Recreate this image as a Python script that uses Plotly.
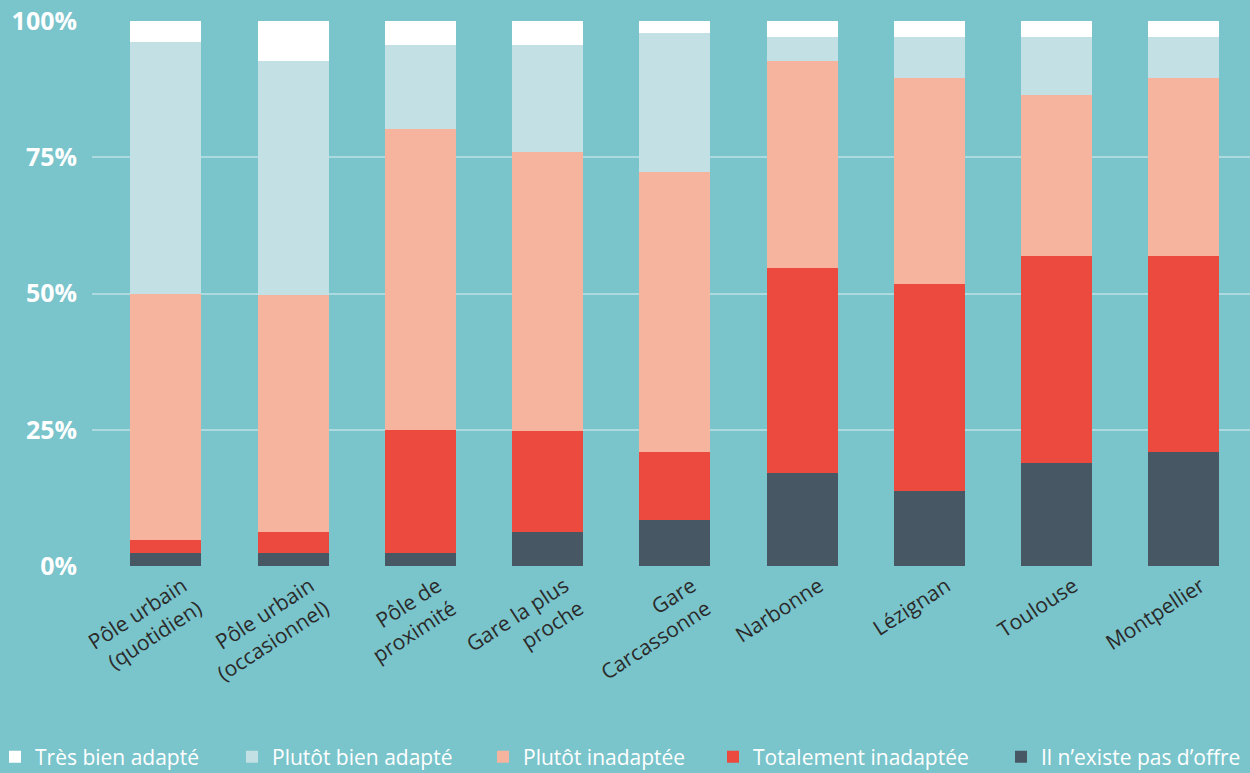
import plotly.graph_objects as go

categories = ["Pôle urbain<br>(quotidien)", "Pôle urbain<br>(occasionnel)", "Pôle de<br>proximité",
              "Gare la plus<br>proche", "Gare<br>Carcassonne", "Narbonne", "Lézignan", "Toulouse", "Montpellier"]

pas_offre = [2.4, 2.4, 2.4, 6.2, 8.4, 17.1, 13.8, 18.9, 20.9]
totalement_inadaptee = [2.4, 3.8, 22.6, 18.6, 12.5, 37.6, 37.9, 38.0, 36.0]
plutot_inadaptee = [45.2, 43.5, 55.2, 51.2, 51.4, 38.0, 37.8, 29.5, 32.6]
plutot_bien = [46.1, 43.0, 15.4, 19.6, 25.5, 4.4, 7.6, 10.7, 7.6]
tres_bien = [3.9, 7.3, 4.4, 4.4, 2.2, 2.9, 2.9, 2.9, 2.9]

y_tickvals = [0, 25, 50, 75, 100]
y_ticktext = ["0%", "25%", "50%", "75%", "100%"]

series_names = ["Il n’existe pas d’offre", "Totalement inadaptée", "Plutôt inadaptée",
                "Plutôt bien adapté", "Très bien adapté"]
series_values = [pas_offre, totalement_inadaptee, plutot_inadaptee, plutot_bien, tres_bien]
colors = ["#475864", "#EC4A3F", "#F6B49F", "#C3E0E4", "#FFFFFF"]
legend_ids = ["legend5", "legend4", "legend3", "legend2", "legend"]
legend_text_px = [1038, 750, 520, 269, 32]

BG = "#7AC4CB"
FONT = "Open Sans"
PLOT_L, PLOT_W = 92, 1158

fig = go.Figure()
for name, vals, col, lg in zip(series_names, series_values, colors, legend_ids):
    fig.add_trace(go.Bar(x=categories, y=vals, name=name, marker=dict(color=col, line=dict(width=0)),
                         legend=lg))

layout_legends = {}
for lg, tp in zip(legend_ids, legend_text_px):
    left_px = tp - 37
    layout_legends[lg] = dict(
        x=(left_px - PLOT_L) / PLOT_W, y=(773 - 757) / 773, xref="paper", yref="container",
        xanchor="left", yanchor="middle", orientation="h",
        bgcolor="rgba(0,0,0,0)", borderwidth=0,
        font=dict(family=FONT, size=21, color="white"),
    )

fig.update_layout(
    width=1250, height=773,
    barmode="stack", bargap=0.442,
    paper_bgcolor=BG, plot_bgcolor=BG,
    margin=dict(l=PLOT_L, r=0, t=21, b=207, autoexpand=False),
    font=dict(family=FONT),
    showlegend=True,
    **layout_legends,
)
fig.update_xaxes(
    range=[-0.58, 8.52], showgrid=False, zeroline=False, showline=False,
    tickangle=-33, tickfont=dict(family=FONT, size=21, color="#2a2a2a"),
    ticklabelshift=17, ticklabelstandoff=3,
)
fig.update_yaxes(
    range=[0, 100], tickmode="array", tickvals=y_tickvals, ticktext=y_ticktext,
    showgrid=True, gridcolor="#ACDADE", gridwidth=2, zeroline=False, showline=False,
    tickfont=dict(family=FONT, size=25, color="white", weight="bold"),
    ticklabelstandoff=14,
)

fig.write_html("out.html", config={"displayModeBar": False},
               post_script="document.body.style.margin='0px';document.body.style.background='" + BG + "';")
